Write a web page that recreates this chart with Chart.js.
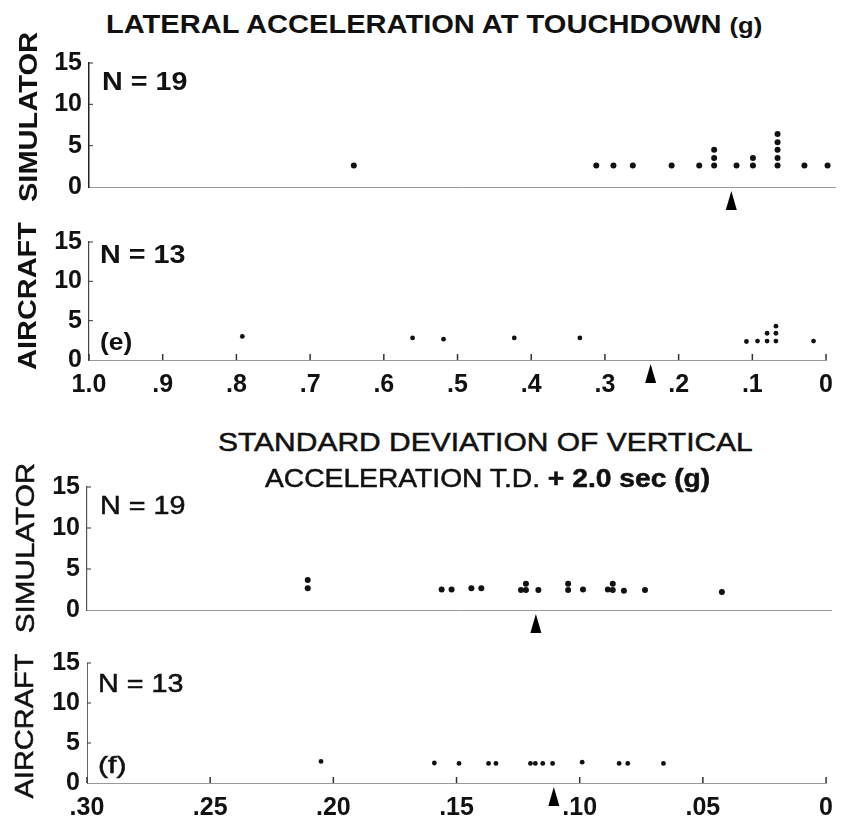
<!DOCTYPE html>
<html><head><meta charset="utf-8">
<script src="https://cdn.jsdelivr.net/npm/chart.js@4.4.1/dist/chart.umd.min.js"></script>
<style>
html,body{margin:0;padding:0;background:#fff;}
#wrap{position:relative;width:843px;height:828px;overflow:hidden;background:#fff;}
canvas.p{position:absolute;left:0;}
.t{position:absolute;white-space:nowrap;line-height:1;color:#111;font-family:"Liberation Sans",Arial,sans-serif;}
</style></head><body><div id="wrap">
<canvas id="c1" class="p"></canvas>
<canvas id="c2" class="p"></canvas>
<canvas id="c3" class="p"></canvas>
<canvas id="c4" class="p"></canvas>
</div>
<script>
// ---- data ----
const latTickValues = [1.0, 0.9, 0.8, 0.7, 0.6, 0.5, 0.4, 0.3, 0.2, 0.1, 0];
const latTickLabels = ['1.0', '.9', '.8', '.7', '.6', '.5', '.4', '.3', '.2', '.1', '0'];
const sdTickValues = [0.30, 0.25, 0.20, 0.15, 0.10, 0.05, 0];
const sdTickLabels = ['.30', '.25', '.20', '.15', '.10', '.05', '0'];
const countTicks = [0, 5, 10, 15];

// (e) lateral acceleration at touchdown, simulator (N = 19)
const simLatX = [0.645, 0.320, 0.297, 0.271, 0.219, 0.182, 0.162, 0.162, 0.162, 0.132, 0.110, 0.110, 0.077, 0.077, 0.077, 0.077, 0.077, 0.041, 0.010];
const simLatY = [2.6, 2.6, 2.6, 2.6, 2.6, 2.6, 2.6, 3.5, 4.5, 2.6, 2.6, 3.5, 2.6, 3.5, 4.5, 5.4, 6.4, 2.6, 2.6];
const simLatMean = 0.139;
// (e) aircraft (N = 13)
const acLatX = [0.792, 0.561, 0.519, 0.423, 0.334, 0.108, 0.093, 0.080, 0.080, 0.068, 0.068, 0.068, 0.017];
const acLatY = [3.0, 2.8, 2.65, 2.8, 2.8, 2.35, 2.4, 2.4, 3.4, 2.4, 3.4, 4.3, 2.4];
const acLatMean = 0.238;
// (f) SD of vertical acceleration T.D. + 2.0 sec, simulator (N = 19)
const simSdX = [0.211, 0.211, 0.157, 0.153, 0.145, 0.141, 0.125, 0.123, 0.123, 0.118, 0.106, 0.106, 0.100, 0.090, 0.088, 0.088, 0.0835, 0.075, 0.044];
const simSdY = [2.65, 3.65, 2.5, 2.5, 2.65, 2.65, 2.45, 2.45, 3.2, 2.45, 2.45, 3.2, 2.5, 2.5, 2.45, 3.2, 2.35, 2.45, 2.2];
const simSdMean = 0.119;
// (f) aircraft (N = 13)
const acSdX = [0.205, 0.159, 0.149, 0.137, 0.134, 0.120, 0.118, 0.115, 0.111, 0.099, 0.084, 0.0805, 0.066];
const acSdY = [2.7, 2.5, 2.45, 2.45, 2.45, 2.45, 2.45, 2.45, 2.45, 2.6, 2.45, 2.45, 2.45];
const acSdMean = 0.1105;

// ---- drawing ----
const FONT = "'Liberation Sans', Arial, sans-serif";

const marksPlugin = {
  id: 'marks',
  afterDraw(chart) {
    const c = chart.options.plugins.marks;
    const ctx = chart.ctx, xs = chart.scales.x, ys = chart.scales.y;
    const y0 = ys.getPixelForValue(0);
    const left = chart.chartArea.left;
    ctx.save();
    ctx.strokeStyle = '#333';
    ctx.lineWidth = 1;
    [5, 10, 15].forEach(v => {
      const py = ys.getPixelForValue(v);
      ctx.beginPath(); ctx.moveTo(left, py); ctx.lineTo(left + 4, py); ctx.stroke();
    });
    if (c.upTicks) {
      ctx.lineWidth = 1.5;
      c.tickValues.forEach(v => {
        const px = xs.getPixelForValue(v);
        ctx.beginPath(); ctx.moveTo(px, y0); ctx.lineTo(px, y0 - 6); ctx.stroke();
      });
    }
    const px = xs.getPixelForValue(c.mean);
    const tip = y0 + 4;
    ctx.fillStyle = '#000';
    ctx.beginPath();
    ctx.moveTo(px, tip); ctx.lineTo(px - 5.5, tip + 19); ctx.lineTo(px + 5.5, tip + 19);
    ctx.closePath(); ctx.fill();
    ctx.restore();
  }
};

function makePanel(id, cfg) {
  const canvas = document.getElementById(id);
  canvas.width = 843; canvas.height = cfg.h;
  canvas.style.top = cfg.top + 'px';
  canvas.style.width = '843px'; canvas.style.height = cfg.h + 'px';
  new Chart(canvas, {
    type: 'scatter',
    data: { datasets: [{
      data: cfg.xs.map((x, i) => ({ x: x, y: cfg.ys[i] })),
      pointRadius: cfg.r, pointBackgroundColor: '#111', pointBorderWidth: 0, showLine: false
    }] },
    options: {
      responsive: false, animation: false, events: [],
      layout: { padding: { top: cfg.padTop, right: cfg.padRight, left: 0, bottom: 0 } },
      plugins: {
        legend: { display: false }, tooltip: { enabled: false },
        marks: { mean: cfg.mean, upTicks: cfg.showX, tickValues: cfg.tickValues }
      },
      scales: {
        x: {
          type: 'linear', reverse: true, min: 0, max: cfg.tickValues[0],
          afterBuildTicks: s => { s.ticks = cfg.tickValues.map(v => ({ value: v })); },
          afterFit: s => { s.height = cfg.xh; },
          grid: { display: false, drawTicks: false },
          border: { display: true, color: '#999', width: 1, dash: [4, 3] },
          ticks: {
            display: cfg.showX, autoSkip: false, maxRotation: 0, padding: 10, color: '#111',
            font: { family: FONT, size: 25, weight: 'bold' },
            callback: v => cfg.tickLabels[cfg.tickValues.indexOf(v)]
          }
        },
        y: {
          min: 0, max: 15,
          afterBuildTicks: s => { s.ticks = countTicks.map(v => ({ value: v })); },
          afterFit: s => { s.width = cfg.yw; },
          grid: { display: false, drawTicks: false },
          border: { display: true, color: cfg.yColor, width: cfg.yWidth, dash: cfg.yDash },
          ticks: { padding: 7, color: '#111', font: { family: FONT, size: 25, weight: 'bold' }, callback: v => String(v) }
        }
      }
    },
    plugins: [marksPlugin]
  });
}

makePanel('c1', { top: 40, h: 180, padTop: 23, padRight: 8, xh: 33, yw: 89, xs: simLatX, ys: simLatY, mean: simLatMean,
  tickValues: latTickValues, tickLabels: latTickLabels, showX: false, r: 3, yColor: '#222', yWidth: 1.5, yDash: [] });
makePanel('c2', { top: 220, h: 190, padTop: 17, padRight: 8, xh: 50, yw: 89, xs: acLatX, ys: acLatY, mean: acLatMean,
  tickValues: latTickValues, tickLabels: latTickLabels, showX: true, r: 2.4, yColor: '#444', yWidth: 1.2, yDash: [3, 2] });
makePanel('c3', { top: 460, h: 180, padTop: 27, padRight: 12, xh: 30, yw: 87, xs: simSdX, ys: simSdY, mean: simSdMean,
  tickValues: sdTickValues, tickLabels: sdTickLabels, showX: false, r: 3, yColor: '#555', yWidth: 1.2, yDash: [3, 2] });
makePanel('c4', { top: 640, h: 188, padTop: 23, padRight: 12, xh: 45, yw: 87, xs: acSdX, ys: acSdY, mean: acSdMean,
  tickValues: sdTickValues, tickLabels: sdTickLabels, showX: true, r: 2.4, yColor: '#666', yWidth: 1, yDash: [2, 3] });

// ---- text ----
const wrap = document.getElementById('wrap');
function txt(html, o) {
  const d = document.createElement('div');
  d.className = 't';
  d.innerHTML = html;
  d.style.fontSize = o.size + 'px';
  d.style.fontWeight = o.bold ? 'bold' : 'normal';
  if (!o.bold) d.style.webkitTextStroke = '0.5px #111';
  wrap.appendChild(d);
  const w = d.offsetWidth, h = d.offsetHeight;
  const s = o.width / w;
  if (o.rot) {
    d.style.left = (o.cx - w / 2) + 'px';
    d.style.top = (o.cy - h / 2) + 'px';
    d.style.transformOrigin = '50% 50%';
    d.style.transform = 'rotate(-90deg) scaleX(' + s + ')';
  } else {
    d.style.left = o.x + 'px';
    d.style.top = (o.base - o.size * 0.8465) + 'px';
    d.style.transformOrigin = '0 0';
    d.style.transform = 'scaleX(' + s + ')';
  }
}
txt('LATERAL ACCELERATION AT TOUCHDOWN <span style="font-size:22px">(g)</span>', { x: 106, base: 33, size: 25, bold: true, width: 656 });
txt('STANDARD DEVIATION OF VERTICAL', { x: 218, base: 452, size: 25.5, bold: false, width: 535 });
txt('ACCELERATION T.D. <b>+ 2.0 sec (g)</b>', { x: 265, base: 488, size: 25.5, bold: false, width: 445 });
txt('SIMULATOR', { rot: true, cx: 27.5, cy: 117, size: 26, bold: true, width: 170 });
txt('AIRCRAFT', { rot: true, cx: 27.5, cy: 296, size: 26, bold: true, width: 148 });
txt('SIMULATOR', { rot: true, cx: 24, cy: 548, size: 26, bold: false, width: 170 });
txt('AIRCRAFT', { rot: true, cx: 24, cy: 726, size: 26, bold: false, width: 145 });
txt('N = 19', { x: 102, base: 90, size: 25, bold: true, width: 85 });
txt('N = 13', { x: 100, base: 263, size: 25, bold: true, width: 85 });
txt('N = 19', { x: 100, base: 514, size: 25, bold: false, width: 85 });
txt('N = 13', { x: 98, base: 692, size: 25, bold: false, width: 85 });
txt('(e)', { x: 100, base: 350, size: 24, bold: true, width: 32 });
txt('(f)', { x: 98, base: 773, size: 24, bold: false, width: 29 });
</script>
</body></html>
